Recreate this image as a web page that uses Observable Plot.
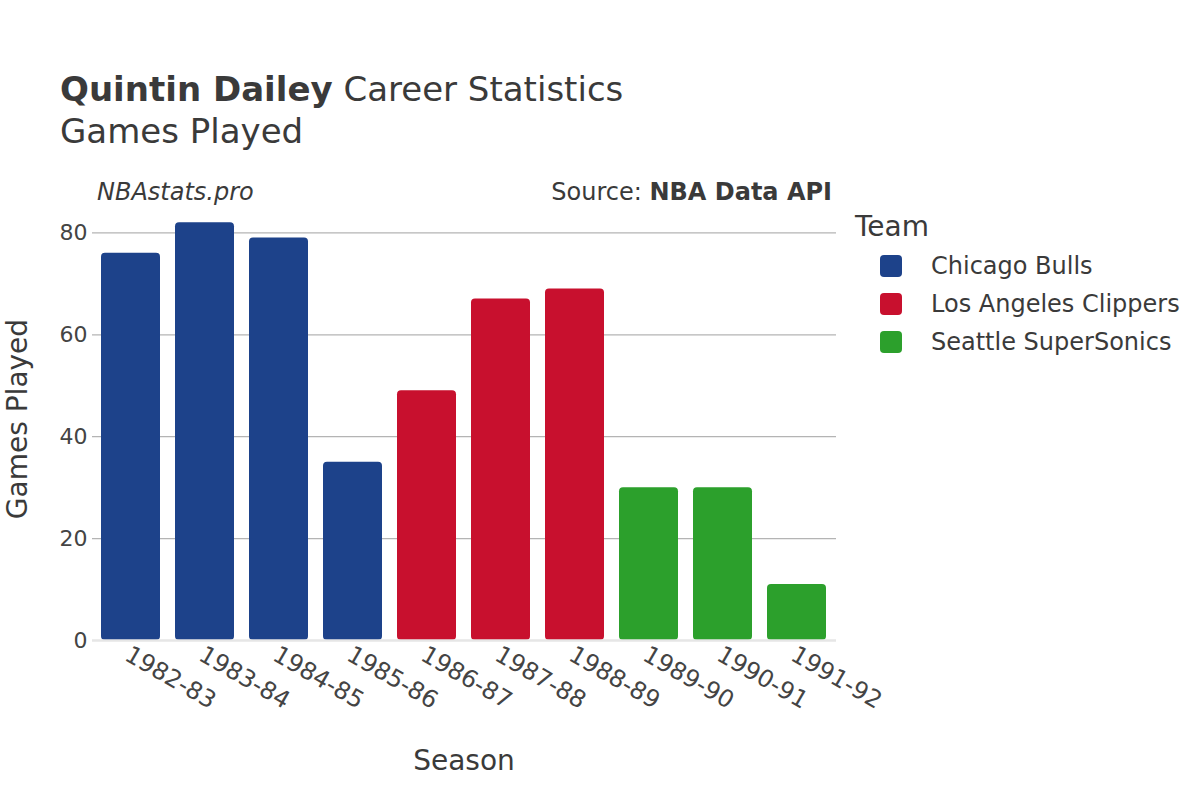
<!DOCTYPE html>
<html>
<head>
<meta charset="utf-8">
<script src="https://cdn.jsdelivr.net/npm/d3@7"></script>
<script src="https://cdn.jsdelivr.net/npm/@observablehq/plot@0.6"></script>
<style>
  html, body { margin: 0; padding: 0; background: #fff; }
  #chart { position: relative; width: 1200px; height: 800px; }
  svg { font-family: "DejaVu Sans", sans-serif; }
</style>
</head>
<body>
<div id="chart"></div>
<script>
const seasons = ["1982-83","1983-84","1984-85","1985-86","1986-87","1987-88","1988-89","1989-90","1990-91","1991-92"];
const teams = ["Chicago Bulls","Chicago Bulls","Chicago Bulls","Chicago Bulls","Los Angeles Clippers","Los Angeles Clippers","Los Angeles Clippers","Seattle SuperSonics","Seattle SuperSonics","Seattle SuperSonics"];
const gamesPlayed = [76, 82, 79, 35, 49, 67, 69, 30, 30, 11];
const teamNames = ["Chicago Bulls","Los Angeles Clippers","Seattle SuperSonics"];
const teamColors = ["#1D428A","#C8102E","#2CA02C"];
const yTicks = [0, 20, 40, 60, 80];

const data = seasons.map((s, i) => ({season: s, team: teams[i], gp: gamesPlayed[i]}));

const W = 1200, H = 800;
const mL = 92, mR = 364, mT = 212, mB = 160;

const plot = Plot.plot({
  width: W, height: H,
  marginLeft: mL, marginRight: mR, marginTop: mT, marginBottom: mB,
  style: {fontFamily: "DejaVu Sans, sans-serif", fontSize: "20px", color: "#444", background: "#fff"},
  x: {domain: seasons, paddingInner: 0.2, paddingOuter: 0.1, label: null},
  y: {domain: [0, 84], label: null},
  color: {domain: teamNames, range: teamColors},
  marks: [
    Plot.gridY(yTicks.filter(d => d > 0), {stroke: "#b4b4b4", strokeOpacity: 1, strokeWidth: 1.3}),
    Plot.barY(data, {x: "season", y: "gp", fill: "team", rx: 4}),
    Plot.ruleY([0], {stroke: "#e6e6e6", strokeWidth: 2.5}),
    Plot.axisY({ticks: yTicks, tickSize: 0, tickPadding: 5, fontSize: 22, fill: "#444", label: null}),
    Plot.axisX({tickSize: 0, tickPadding: 12, tickRotate: 30, fontSize: 24, fill: "#444", label: null, dx: -4})
  ]
});

document.getElementById("chart").appendChild(plot);

const svg = d3.select(plot);
const txt = "#3a3a3a";
const g = svg.append("g").attr("text-anchor", "start").attr("font-family", "DejaVu Sans, sans-serif");

// Title
const t = g.append("text").attr("x", 60).attr("y", 101).attr("font-size", 34).attr("fill", txt);
t.append("tspan").attr("font-weight", "bold").text("Quintin Dailey");
t.append("tspan").text(" Career Statistics");
g.append("text").attr("x", 60).attr("y", 143).attr("font-size", 34).attr("fill", txt).text("Games Played");

// Annotations
g.append("text").attr("x", 97).attr("y", 200).attr("font-size", 24).attr("font-style", "italic").attr("fill", txt).text("NBAstats.pro");
const src = g.append("text").attr("x", 832).attr("y", 200).attr("font-size", 24).attr("text-anchor", "end").attr("fill", txt);
src.append("tspan").text("Source: ");
src.append("tspan").attr("font-weight", "bold").text("NBA Data API");

// Axis titles
g.append("text").attr("transform", "translate(27,419) rotate(-90)").attr("text-anchor", "middle").attr("font-size", 28).attr("fill", txt).text("Games Played");
g.append("text").attr("x", 464).attr("y", 770).attr("text-anchor", "middle").attr("font-size", 28).attr("fill", txt).text("Season");

// Legend
g.append("text").attr("x", 855).attr("y", 236).attr("font-size", 28).attr("fill", txt).text("Team");
teamNames.forEach((name, i) => {
  const y = 266 + i * 38;
  g.append("rect").attr("x", 880).attr("y", y - 11).attr("width", 22).attr("height", 22).attr("rx", 4).attr("fill", teamColors[i]);
  g.append("text").attr("x", 931).attr("y", y + 8).attr("font-size", 24).attr("fill", txt).text(name);
});
</script>
</body>
</html>
